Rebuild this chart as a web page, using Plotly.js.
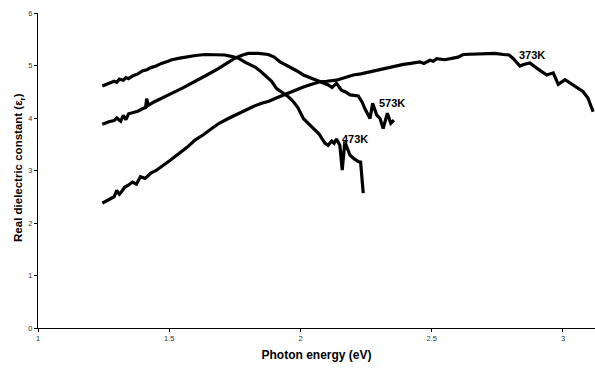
<!DOCTYPE html>
<html>
<head>
<meta charset="utf-8">
<script src="https://cdn.plot.ly/plotly-3.0.1.min.js"></script>
<style>html,body{margin:0;padding:0;background:#fff;}#chart{width:595px;height:371px;}</style>
</head>
<body>
<div id="chart"></div>
<script>
// Curve data
const x473 = [1.245,1.27,1.29,1.30,1.31,1.325,1.335,1.345,1.36,1.38,1.40,1.415,1.43,1.45,1.47,1.49,1.51,1.54,1.57,1.60,1.636,1.67,1.712,1.74,1.763,1.79,1.81,1.827,1.85,1.877,1.89,1.909,1.925,1.941,1.955,1.973,1.99,2.011,2.03,2.049,2.07,2.093,2.105,2.119,2.128,2.137,2.15,2.159,2.169,2.18,2.189,2.205,2.220,2.229,2.239];
const y473 = [4.61,4.66,4.70,4.68,4.74,4.72,4.77,4.75,4.80,4.84,4.90,4.92,4.96,4.99,5.04,5.07,5.11,5.14,5.17,5.19,5.21,5.21,5.20,5.17,5.14,5.06,5.01,4.97,4.88,4.75,4.70,4.56,4.50,4.44,4.40,4.31,4.20,3.99,3.90,3.80,3.70,3.52,3.48,3.56,3.52,3.60,3.48,3.01,3.55,3.40,3.29,3.22,3.17,3.16,2.57];

const x573 = [1.245,1.27,1.29,1.30,1.315,1.325,1.335,1.345,1.36,1.38,1.40,1.41,1.414,1.42,1.44,1.47,1.509,1.55,1.598,1.64,1.687,1.72,1.750,1.78,1.801,1.84,1.877,1.90,1.922,1.94,1.96,1.985,2.011,2.03,2.049,2.074,2.09,2.106,2.12,2.137,2.156,2.17,2.189,2.205,2.22,2.235,2.245,2.265,2.275,2.29,2.303,2.315,2.331,2.344,2.356];
const y573 = [3.88,3.93,3.95,4.00,3.94,4.05,3.97,4.08,4.10,4.13,4.18,4.20,4.37,4.24,4.30,4.38,4.47,4.57,4.69,4.81,4.94,5.05,5.14,5.20,5.23,5.23,5.21,5.16,5.07,5.02,4.97,4.90,4.82,4.78,4.75,4.69,4.66,4.63,4.58,4.66,4.53,4.50,4.44,4.43,4.42,4.30,4.18,3.99,4.28,4.06,3.99,3.80,4.09,3.90,3.96];

const x373 = [1.245,1.27,1.29,1.30,1.31,1.319,1.33,1.344,1.36,1.375,1.39,1.408,1.43,1.45,1.471,1.50,1.547,1.57,1.598,1.63,1.662,1.69,1.725,1.76,1.789,1.82,1.852,1.88,1.903,1.941,1.98,2.011,2.04,2.074,2.10,2.137,2.17,2.201,2.23,2.265,2.30,2.328,2.36,2.392,2.42,2.455,2.47,2.493,2.506,2.519,2.55,2.57,2.60,2.62,2.66,2.709,2.74,2.773,2.795,2.811,2.836,2.85,2.874,2.90,2.938,2.963,2.982,3.008,3.04,3.077,3.095,3.115];
const y373 = [2.38,2.45,2.50,2.62,2.55,2.60,2.68,2.72,2.78,2.74,2.88,2.85,2.95,3.00,3.07,3.18,3.36,3.45,3.58,3.68,3.80,3.90,3.99,4.08,4.15,4.22,4.28,4.32,4.37,4.45,4.52,4.59,4.64,4.69,4.70,4.72,4.77,4.82,4.84,4.88,4.91,4.94,4.98,5.02,5.04,5.07,5.04,5.10,5.08,5.13,5.11,5.13,5.16,5.21,5.22,5.23,5.23,5.21,5.20,5.13,4.99,5.02,5.05,4.95,4.82,4.86,4.64,4.73,4.62,4.50,4.38,4.12];

const labelText = ["373K", "573K", "473K"];
const labelX = [2.882, 2.349, 2.208];
const labelY = [5.20, 4.29, 3.60];

const xTicks = [1, 1.5, 2, 2.5, 3];
const yTicks = [0, 1, 2, 3, 4, 5, 6];

const lineStyle = {color: '#000', width: 3.2};
const traces = [
  {x: x373, y: y373, name: '373K', mode: 'lines', line: lineStyle},
  {x: x473, y: y473, name: '473K', mode: 'lines', line: lineStyle},
  {x: x573, y: y573, name: '573K', mode: 'lines', line: lineStyle}
];

const annotations = labelText.map((t, i) => ({
  x: labelX[i], y: labelY[i], xref: 'x', yref: 'y', text: '<b>' + t + '</b>',
  showarrow: false, font: {family: 'Liberation Sans, Arial, sans-serif', size: 11, color: '#000'}
}));
annotations.push({
  xref: 'paper', yref: 'paper', x: -0.033, y: 0.51, xanchor: 'center', yanchor: 'middle',
  textangle: -90, showarrow: false,
  text: '<b>Real dielectric constant (ε<sub>r</sub>)</b>',
  font: {family: 'Liberation Sans, Arial, sans-serif', size: 11.5, color: '#000'}
});

const tickFont = {family: 'Liberation Sans, Arial, sans-serif', size: 7.5, color: '#333'};
const layout = {
  width: 595, height: 371,
  margin: {l: 38, r: 0, t: 13, b: 43, pad: 0},
  paper_bgcolor: '#fff', plot_bgcolor: '#fff',
  showlegend: false,
  font: {family: 'Liberation Sans, Arial, sans-serif'},
  xaxis: {
    range: [1, 3.122], tickvals: xTicks, ticktext: xTicks.map(String),
    showgrid: false, zeroline: false, showline: true, linecolor: '#000', linewidth: 1,
    ticks: 'outside', ticklen: 3, tickcolor: '#000', tickfont: tickFont,
    title: {text: '<b>Photon energy (eV)</b>', font: {family: 'Liberation Sans, Arial, sans-serif', size: 12, color: '#000'}, standoff: 8}
  },
  yaxis: {
    range: [0, 6], tickvals: yTicks, ticktext: yTicks.map(String),
    showgrid: false, zeroline: false, showline: true, linecolor: '#000', linewidth: 1,
    ticks: 'outside', ticklen: 3, tickcolor: '#000', tickfont: tickFont
  },
  annotations: annotations
};

Plotly.newPlot('chart', traces, layout, {staticPlot: true, displayModeBar: false});
</script>
</body>
</html>
